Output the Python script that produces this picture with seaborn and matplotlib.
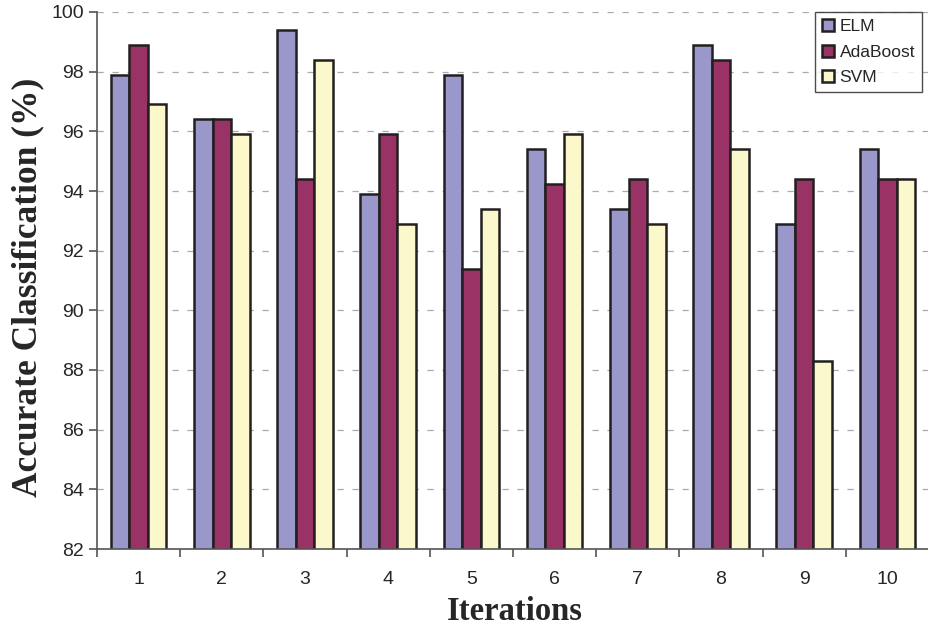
import matplotlib
matplotlib.use("Agg")
import matplotlib.pyplot as plt
import seaborn as sns
import pandas as pd

iterations = ["1", "2", "3", "4", "5", "6", "7", "8", "9", "10"]
elm = [97.9, 96.4, 99.4, 93.9, 97.9, 95.4, 93.4, 98.9, 92.9, 95.4]
adaboost = [98.9, 96.4, 94.4, 95.9, 91.4, 94.25, 94.4, 98.4, 94.4, 94.4]
svm = [96.9, 95.9, 98.4, 92.9, 93.4, 95.9, 92.9, 95.4, 88.3, 94.4]
methods = ["ELM", "AdaBoost", "SVM"]
colors = ["#9A97CA", "#993366", "#FBF9CC"]
yticks = [82, 84, 86, 88, 90, 92, 94, 96, 98, 100]

rows = []
for m, vals in zip(methods, [elm, adaboost, svm]):
    for it, v in zip(iterations, vals):
        rows.append({"Iteration": it, "Method": m, "Value": v})
df = pd.DataFrame(rows)

sns.set_style("white")
plt.rcParams['font.family'] = ['Liberation Sans', 'DejaVu Sans']

fig = plt.figure(figsize=(9.29, 6.29), dpi=100)
ax = fig.add_axes([97/929, 1-549/629, 832/929, (549-12)/629])

sns.barplot(data=df, x="Iteration", y="Value", hue="Method", order=iterations,
            hue_order=methods, palette=colors, width=0.67, edgecolor="#231f20",
            linewidth=1.8, saturation=1, ax=ax, gap=0)

ax.set_ylim(82, 100)
ax.set_yticks(yticks)
ax.set_xlim(-0.5, 9.5)
ax.yaxis.grid(True, linestyle=(0, (5, 7)), color="#aaaaaa", linewidth=0.9)
ax.set_axisbelow(True)
for s in ["top", "right"]:
    ax.spines[s].set_visible(False)
ax.spines["left"].set_color("#555555")
ax.spines["bottom"].set_color("#555555")
ax.spines["left"].set_linewidth(1.2)
ax.spines["bottom"].set_linewidth(1.2)

ax.set_xticks([i + 0.5 for i in range(-1, 10)], minor=True)
ax.tick_params(axis="x", which="minor", length=6, width=1.2, color="#555555", bottom=True)
ax.tick_params(axis="x", which="major", length=0, labelsize=14, pad=16)
ax.tick_params(axis="y", which="major", length=6, width=1.2, color="#555555", left=True, labelsize=14)

ax.set_xlabel("Iterations", fontsize=23.5, fontweight="bold", family="Liberation Serif")
ax.set_ylabel("Accurate Classification (%)", fontsize=25.5, fontweight="bold", family="Liberation Serif")
ax.xaxis.set_label_coords((515-97)/832, -(612-549)/537)
ax.xaxis.label.set_va("center")
ax.yaxis.set_label_coords(-(97-28)/832, (549-287)/537)
ax.yaxis.label.set_va("center")

leg = ax.legend(loc="upper right", bbox_to_anchor=(922/929, 1-12/629), bbox_transform=fig.transFigure,
                frameon=True, fancybox=False, edgecolor="#231f20", fontsize=12.5,
                handlelength=0.7, handleheight=0.7, handletextpad=0.3, borderpad=0.4,
                labelspacing=0.6, borderaxespad=0)
leg.get_frame().set_linewidth(1.0)

fig.savefig("out.png", dpi=100)
